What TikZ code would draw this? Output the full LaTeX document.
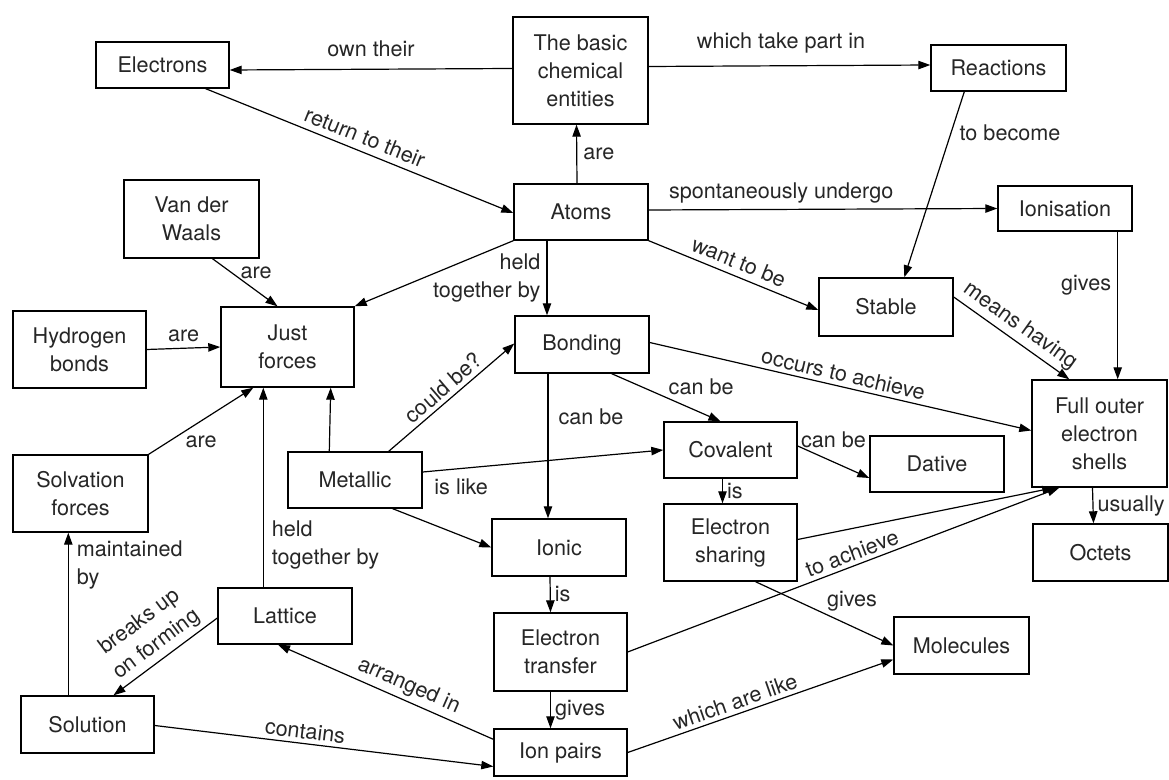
\documentclass[tikz,border=0pt]{standalone}
\usepackage{fontspec}
\setmainfont{TeX Gyre Heros}
\usetikzlibrary{arrows.meta,calc}
\newcommand\lbfont{\fontsize{10.8}{14}\selectfont}
\tikzset{
  box/.style={draw, line width=0.7pt, align=center, inner sep=0pt, font=\lbfont, text=black!85},
  sz/.style 2 args={minimum width={#1*0.5pt}, minimum height={#2*0.5pt}},
  lbl/.style={inner sep=1pt, font=\lbfont, text=black!85},
  arr/.style={line width=0.6pt, -{Triangle[length=6pt,width=4.2pt]}}
}
\begin{document}
\begin{tikzpicture}[x=0.5pt,y=-0.5pt]
\useasboundingbox[fill=white] (0,0) rectangle (1169,780);
% nodes
\node[box, sz={133}{46}] (elec) at (162.5,65) {Electrons};
\node[box, sz={135}{107}] (basic) at (580.5,70.5) {The basic\\chemical\\entities};
\node[box, sz={135}{46}] (reac) at (998.5,68) {Reactions};
\node[box, sz={134}{56}] (atoms) at (581,212) {Atoms};
\node[box, sz={135}{78}] (vdw) at (191.5,219) {Van der\\Waals};
\node[box, sz={134}{45}] (ionis) at (1065,208.5) {Ionisation};
\node[box, sz={133}{77}] (hyd) at (79.5,349.5) {Hydrogen\\bonds};
\node[box, sz={133}{80}] (justf) at (287.5,347) {Just\\forces};
\node[box, sz={134}{56}] (metal) at (355,480) {Metallic};
\node[box, sz={135}{77}] (solv) at (80.5,493.5) {Solvation\\forces};
\node[box, sz={134}{57}] (bond) at (582,344.5) {Bonding};
\node[box, sz={133}{56}] (cov) at (730.5,450) {Covalent};
\node[box, sz={134}{58}] (stable) at (886,307) {Stable};
\node[box, sz={135}{107}] (full) at (1099.5,433.5) {Full outer\\electron\\shells};
\node[box, sz={134}{56}] (dative) at (937,464) {Dative};
\node[box, sz={133}{77}] (esh) at (730.5,542.5) {Electron\\sharing};
\node[box, sz={135}{57}] (octets) at (1100.5,552.5) {Octets};
\node[box, sz={134}{57}] (ionic) at (559,547.5) {Ionic};
\node[box, sz={133}{78}] (etrans) at (560.5,652) {Electron\\transfer};
\node[box, sz={133}{47}] (ionp) at (560.5,752.5) {Ion pairs};
\node[box, sz={135}{57}] (mol) at (961.5,645.5) {Molecules};
\node[box, sz={134}{56}] (lat) at (285,616) {Lattice};
\node[box, sz={133}{57}] (sol) at (87.5,724.5) {Solution};
% connectors
\draw[arr] ($(basic.west)+(0,-2)$) -- node[lbl, above=5pt, pos=0.5]{own their} ($(elec.east)+(0,5)$);
\draw[arr] ($(basic.east)+(0,-4)$) -- node[lbl, above=5pt, pos=0.47]{which take part in} ($(reac.west)+(0,-3)$);
\draw[arr] ($(elec.south east)+(-24,0)$) -- node[lbl, sloped, above=2pt]{return to their} ($(atoms.west)+(0,1)$);
\draw[arr] ($(atoms.north)+(-4,0)$) -- node[lbl, right=2pt]{are} ($(basic.south)+(-4,0)$);
\draw[arr] ($(atoms.east)+(0,-2)$) -- node[lbl, above=2pt, pos=0.38]{spontaneously undergo} (ionis.west);
\draw[arr] ($(reac.south west)+(34,0)$) -- node[lbl, right=3pt, pos=0.22]{to become} ($(stable.north west)+(86,0)$);
\draw[arr] (atoms.south east) -- node[lbl, sloped, above=2pt]{want to be} ($(stable.west)+(0,3)$);
\draw[arr] ($(ionis.south east)+(-15,0)$) -- node[lbl, left=2pt, pos=0.36]{gives} ($(full.north east)+(-50,0)$);
\draw[arr] ($(stable.east)+(0,-10)$) -- node[lbl, sloped, above=1pt]{means having} ($(full.north west)+(38,0)$);
\draw[arr] (atoms.south west) -- (justf.north east);
\draw[arr] ($(atoms.south)+(-34,0)$) -- node[lbl, left=2pt, align=right]{held\\together by} ($(bond.north)+(-35,0)$);
\draw[arr] ($(vdw.south)+(21,0)$) -- node[lbl, right=3pt, pos=0.3]{are} ($(justf.north)+(-10,0)$);
\draw[arr] (hyd.east) -- node[lbl, above=2pt]{are} (justf.west);
\draw[arr] (solv.north east) -- node[lbl, below=6pt]{are} ($(justf.south west)+(33,0)$);
\draw[arr] ($(lat.north west)+(46,0)$) -- node[lbl, right=3pt, align=left, pos=0.21]{held\\together by} ($(justf.south west)+(43,0)$);
\draw[arr] ($(metal.north west)+(42,0)$) -- ($(justf.south east)+(-24,0)$);
\draw[arr] ($(metal.north east)+(-34,0)$) -- node[lbl, sloped, above=1pt]{could be?} ($(bond.west)+(0,-1)$);
\draw[arr] ($(metal.east)+(0,-8)$) -- node[lbl, below=4pt, pos=0.16]{is like} (cov.west);
\draw[arr] ($(metal.south east)+(-30,0)$) -- (ionic.west);
\draw[arr] ($(bond.south)+(-34,0)$) -- node[lbl, right=4pt, pos=0.3]{can be} ($(ionic.north)+(-11,0)$);
\draw[arr] ($(bond.south east)+(-38,0)$) -- node[lbl, above right=0pt]{can be} ($(cov.north)+(-10,0)$);
\draw[arr] ($(bond.east)+(0,-2)$) -- node[lbl, sloped, above=1pt]{occurs to achieve} ($(full.west)+(0,-3)$);
\draw[arr] ($(cov.east)+(0,-4)$) -- node[lbl, above=6pt, pos=0.5]{can be} ($(dative.west)+(0,14)$);
\draw[arr] ($(cov.south)+(-8,0)$) -- node[lbl, right=1pt]{is} ($(esh.north)+(-8,0)$);
\draw[arr] ($(esh.east)+(0,-3)$) -- ($(full.south west)+(23,0)$);
\draw[arr] (etrans.east) -- node[lbl, sloped, above=1pt, pos=0.53]{to achieve} ($(full.south west)+(28,0)$);
\draw[arr] ($(esh.south)+(25,0)$) -- node[lbl, above right=0pt, pos=0.5]{gives} (mol.west);
\draw[arr] ($(full.south)+(-7,0)$) -- node[lbl, right=1pt]{usually} ($(octets.north)+(-7,0)$);
\draw[arr] ($(ionic.south)+(-9,0)$) -- node[lbl, right=1pt]{is} ($(etrans.north)+(-10,0)$);
\draw[arr] ($(etrans.south)+(-10,0)$) -- node[lbl, right=1pt]{gives} ($(ionp.north)+(-10,0)$);
\draw[arr] ($(ionp.north west)+(0,11)$) -- node[lbl, sloped, above=1pt, pos=0.42]{arranged in} ($(lat.south)+(-7,0)$);
\draw[arr] (ionp.east) -- node[lbl, sloped, above=1pt, pos=0.42]{which are like} ($(mol.west)+(0,14)$);
\draw[arr] ($(sol.east)+(0,1)$) -- node[lbl, sloped, above=1pt, pos=0.44]{contains} ($(ionp.west)+(0,14)$);
\draw[arr] ($(lat.west)+(0,2)$) -- node[lbl, sloped, above=1pt, align=center]{breaks up\\on forming} ($(sol.north)+(26,0)$);
\draw[arr] ($(sol.north west)+(48,0)$) -- node[lbl, right=3pt, align=left, pos=0.8]{maintained\\by} ($(solv.south west)+(56,0)$);
\end{tikzpicture}
\end{document}
